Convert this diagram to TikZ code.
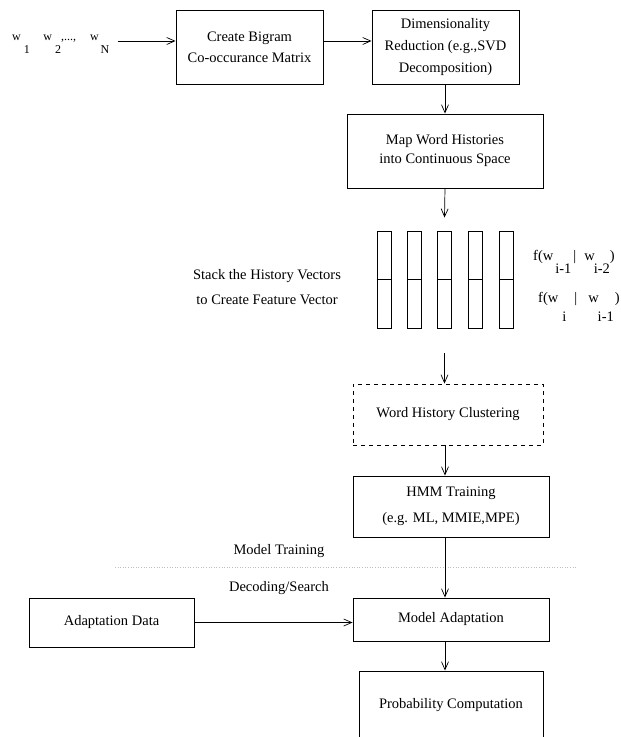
\documentclass[tikz,border=0pt]{standalone}
\usepackage{fontspec}
\setmainfont{Liberation Serif}
\usetikzlibrary{arrows.meta}

\tikzset{
  box/.style={draw, line width=0.9pt, inner sep=0pt, align=center, font=\fontsize{14.5}{17.4}\selectfont},
  dashbox/.style={box, dash pattern=on 4pt off 4pt},
  vec/.style={draw, line width=0.9pt, minimum width=14pt, minimum height=97pt, inner sep=0pt},
  arr/.style={line width=0.7pt, -{Straight Barb[length=8pt,width=7pt]}},
  lbl/.style={inner sep=0pt, align=center, font=\fontsize{14.5}{17.4}\selectfont},
  sep/.style={gray!50, line width=0.6pt, dash pattern=on 0.6pt off 2pt}
}

\begin{document}
\begin{tikzpicture}[x=1pt, y=-1pt]
\useasboundingbox (0,0) rectangle (621,737);
\clip (0,0) rectangle (621,737);

% top row
\node[lbl, font=\fontsize{12}{14}\selectfont, anchor=base west] (words) at (12,40)
  {w\hspace{3pt}\raisebox{-13pt}{1}\hspace{13.5pt}w\hspace{3pt}\raisebox{-13pt}{2},...,\hspace{14pt}w\hspace{2pt}\raisebox{-13pt}{N}};
\node[box, minimum width=147pt, minimum height=74pt] (bigram) at (249.5,47) {Create Bigram\\[3.6pt]Co-occurance Matrix};
\node[box, minimum width=147pt, minimum height=74pt] (dimred) at (445.5,47) {Dimensionality\\[4.6pt]Reduction (e.g.,SVD\\[4.6pt]Decomposition)};
\node[box, minimum width=196pt, minimum height=74pt] (wordmap) at (445,151) {Map Word Histories\\[1.6pt]into Continuous Space};

% stacked history vectors
\foreach \i/\x in {1/384,2/414.5,3/444.5,4/475.5,5/506.5} {
  \node[vec] (bar\i) at (\x,279.5) {};
  \draw[line width=1pt] (bar\i.west) -- (bar\i.east);
}
\node[lbl] (stacktxt) at (267,287.5) {Stack the History Vectors\\[7.6pt]to Create Feature Vector};
\node[lbl, anchor=base west] (fupper) at (533,260)
  {f(w\hspace{2pt}\raisebox{-13pt}{i-1}\hspace{2pt}|\hspace{8pt}w\hspace{-1pt}\raisebox{-13pt}{i-2})};
\node[lbl, anchor=base west] (flower) at (538,302)
  {f(w\hspace{4pt}\raisebox{-19pt}{i}\hspace{8pt}|\hspace{11pt}w\hspace{-1pt}\raisebox{-19pt}{i-1}\hspace{1pt})};

% training and decoding
\node[dashbox, minimum width=190pt, minimum height=61pt] (cluster) at (448,414.5) {Word History Clustering};
\node[box, minimum width=196pt, minimum height=61pt] (hmm) at (451,506.5) {HMM Training\\[8.6pt](e.g. ML, MMIE,MPE)};
\node[lbl] (train) at (279,551) {Model Training};
\node[lbl] (decode) at (279,588) {Decoding/Search};
\node[box, minimum width=165pt, minimum height=49pt] (adata) at (111.5,622.5) {Adaptation Data};
\node[box, minimum width=196pt, minimum height=43pt] (adapt) at (451,619.5) {Model Adaptation};
\node[box, minimum width=184pt, minimum height=68pt] (prob) at (451,705) {Probability Computation};

\draw[sep] (115,567) -- (577,567);

% connectors
\coordinate (spine) at (445,0);
\coordinate (src) at (118,41);
\draw[arr] (src) -- (src -| bigram.west);
\draw[arr] (bigram.east |- src) -- (src -| dimred.west);
\draw[arr] (dimred.south -| spine) -- (wordmap.north -| spine);
\draw[arr] (wordmap.south -| spine) -- ([yshift=13pt]bar3.north);
\draw[arr] ([yshift=-25pt]bar3.south) -- (cluster.north -| bar3.south);
\draw[arr] (cluster.south -| spine) -- (hmm.north -| spine);
\draw[arr] (hmm.south -| spine) -- (adapt.north -| spine);
\draw[arr] (adapt.south -| spine) -- (prob.north -| spine);
\draw[arr] (adata.east) -- (adata.east -| adapt.west);
\end{tikzpicture}
\end{document}
